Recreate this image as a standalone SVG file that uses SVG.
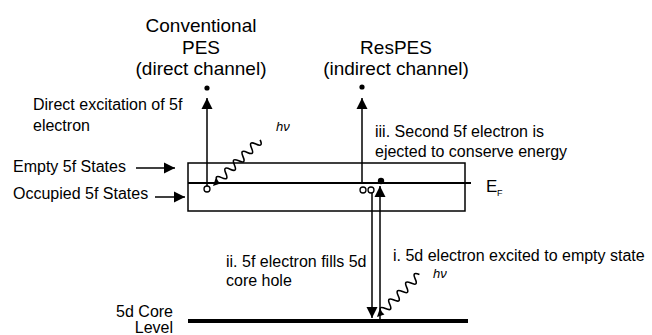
<svg xmlns="http://www.w3.org/2000/svg" width="652" height="335" viewBox="0 0 652 335">
<style>
text{font-family:"Liberation Sans",Arial,sans-serif;fill:#000}
.t{font-size:19px;text-anchor:middle}
.s{font-size:16px}
.hv{font-size:13px;font-style:italic}
.ln{stroke:#000;stroke-width:1.5;fill:none}
.wv{stroke:#000;stroke-width:1.6;fill:none}
</style>
<defs>
<marker id="ah" markerUnits="userSpaceOnUse" markerWidth="12" markerHeight="12" viewBox="0 0 12 12" refX="11" refY="6" orient="auto">
<path d="M0,0.5 L11,6 L0,11.5 z" fill="#000"/>
</marker>
</defs>
<rect width="652" height="335" fill="#fff"/>

<g id="title-conventional">
<text class="t" x="201" y="32">Conventional</text>
<text class="t" x="201" y="54">PES</text>
<text class="t" x="201" y="75">(direct channel)</text>
</g>
<g id="title-respes">
<text class="t" x="396" y="54">ResPES</text>
<text class="t" x="396" y="75">(indirect channel)</text>
</g>

<g id="band-box">
<rect x="188" y="163" width="277" height="48" fill="none" stroke="#000" stroke-width="1.5"/>
<line x1="188" y1="183" x2="471" y2="183" stroke="#000" stroke-width="2"/>
</g>
<g id="fermi-label">
<text x="486" y="192" style="font-size:17px">E</text>
<text x="497" y="196" style="font-size:9px">F</text>
</g>

<g id="core-level">
<line x1="188" y1="321" x2="468" y2="321" stroke="#000" stroke-width="4"/>
<text class="s" x="173" y="317" text-anchor="end">5d Core</text>
<text class="s" x="173" y="333" text-anchor="end">Level</text>
</g>

<g id="label-empty">
<text class="s" x="13" y="172">Empty 5f States</text>
</g>
<g id="label-occupied">
<text class="s" x="13" y="199">Occupied 5f States</text>
</g>
<g id="label-direct">
<text class="s" x="33" y="110">Direct excitation of 5f</text>
<text class="s" x="33" y="131">electron</text>
</g>
<g id="label-iii">
<text class="s" x="375" y="137">iii. Second 5f electron is</text>
<text class="s" x="375" y="157">ejected to conserve energy</text>
</g>
<g id="label-ii">
<text class="s" x="226" y="267">ii. 5f electron fills 5d</text>
<text class="s" x="226" y="286">core hole</text>
</g>
<g id="label-i">
<text class="s" x="393" y="261">i. 5d electron excited to empty state</text>
</g>
<g id="hv-labels">
<text class="hv" x="276" y="131">hν</text>
<text class="hv" x="433" y="278">hν</text>
</g>

<g id="electrons">
<circle cx="207" cy="189" r="3" fill="#fff" stroke="#000" stroke-width="1.3"/>
<circle cx="207" cy="88" r="2.6" fill="#000"/>
<circle cx="362" cy="87" r="2.6" fill="#000"/>
<circle cx="363" cy="190" r="3" fill="#fff" stroke="#000" stroke-width="1.3"/>
<circle cx="371" cy="190" r="3" fill="#fff" stroke="#000" stroke-width="1.3"/>
<circle cx="381" cy="181" r="3.2" fill="#000"/>
</g>

<g id="connectors">
<line class="ln" x1="136" y1="168" x2="175" y2="168" marker-end="url(#ah)"/>
<line class="ln" x1="155" y1="197" x2="185" y2="197" marker-end="url(#ah)"/>
<line class="ln" x1="207" y1="186" x2="207" y2="98" marker-end="url(#ah)"/>
<line class="ln" x1="362" y1="183" x2="362" y2="98" marker-end="url(#ah)"/>
<line class="ln" x1="372" y1="193" x2="372" y2="318" marker-end="url(#ah)"/>
<line class="ln" x1="380" y1="320" x2="380" y2="186" marker-end="url(#ah)"/>
<g transform="translate(213,186) rotate(-44.4)">
<polygon points="0,0 7,-3.5 7,3.5" fill="#000"/>
<path class="wv" d="M6,0 q3,-8 6,0 t6,0 t6,0 t6,0 t6,0 t6,0 t6,0 t6,0 t6,0 t6,0"/>
</g>
<g transform="translate(377,317) rotate(-45)">
<polygon points="0,0 7,-3.5 7,3.5" fill="#000"/>
<path class="wv" d="M6,0 q3,-8 6,0 t6,0 t6,0 t6,0 t6,0 t6,0 t6,0 t6,0 t6,0"/>
</g>
</g>
</svg>
